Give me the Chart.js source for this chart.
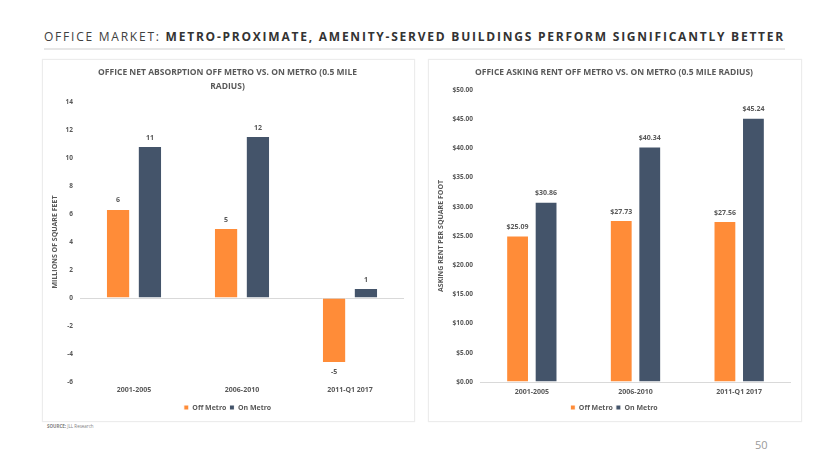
<!DOCTYPE html>
<html><head><meta charset="utf-8">
<script src="https://cdn.jsdelivr.net/npm/chart.js@4.4.1/dist/chart.umd.min.js"></script>
<style>
html,body{margin:0;padding:0;background:#fff;width:830px;height:467px;overflow:hidden;font-family:"Open Sans",sans-serif;}
#hdr{position:absolute;left:44px;top:28px;font-size:12px;letter-spacing:2px;color:#404040;white-space:nowrap;}
#hdr b{font-weight:700;color:#333;}
#rule{position:absolute;left:44px;top:48px;width:741px;height:2px;background:#e6e6e6;}
.panel{position:absolute;border:1px solid #ececec;box-shadow:0 0 1px #eee;}
#p1{left:42px;top:59px;width:371px;height:361px;}
#p2{left:428px;top:59px;width:372px;height:361px;}
#src{position:absolute;left:47px;top:423px;font-size:4.5px;color:#7f7f7f;}
#pg{position:absolute;left:755px;top:437px;font-size:11px;color:#9a9a9a;}
</style></head><body>
<div id="hdr">OFFICE MARKET: <b>METRO-PROXIMATE, AMENITY-SERVED BUILDINGS PERFORM SIGNIFICANTLY BETTER</b></div>
<div id="rule"></div>
<div class="panel" id="p1"><canvas id="c1" width="371" height="361"></canvas></div>
<div class="panel" id="p2"><canvas id="c2" width="372" height="361"></canvas></div>
<div id="src"><b>SOURCE:</b> JLL Research</div>
<div id="pg">50</div>
<script>
const categories = ["2001-2005", "2006-2010", "2011-Q1 2017"];
const seriesNames = ["Off Metro", "On Metro"];
const absorptionOff = [6.36, 5.0, -4.64];
const absorptionOn = [10.86, 11.57, 0.71];
const rentOff = [25.09, 27.73, 27.56];
const rentOn = [30.86, 40.34, 45.24];
const absorptionTitle = ["OFFICE NET ABSORPTION OFF METRO VS. ON METRO (0.5 MILE", "RADIUS)"];
const rentTitle = "OFFICE ASKING RENT OFF METRO VS. ON METRO (0.5 MILE RADIUS)";

// fit header text to the rule width
(function () {
  const h = document.getElementById("hdr");
  const n = h.textContent.length;
  const w = h.getBoundingClientRect().width;
  const ls = 2 + (741 - w) / n;
  h.style.letterSpacing = ls + "px";
})();

const ORANGE = "#FF8C38", NAVY = "#44546A", TXT = "#595959";
const FONT = "'Open Sans', sans-serif";

const labelPlugin = {
  id: "valLabels",
  afterDatasetsDraw(chart, args, opts) {
    const ctx = chart.ctx;
    ctx.save();
    ctx.font = "bold 7px " + FONT;
    ctx.fillStyle = TXT;
    ctx.textAlign = "center";
    chart.data.datasets.forEach((ds, di) => {
      chart.getDatasetMeta(di).data.forEach((bar, i) => {
        const v = ds.data[i];
        const txt = opts.fmt(v);
        if (v >= 0) { ctx.textBaseline = "bottom"; ctx.fillText(txt, bar.x, bar.y - 5); }
        else { ctx.textBaseline = "top"; ctx.fillText(txt, bar.x, bar.y + 6); }
      });
    });
    ctx.restore();
  }
};

function makeChart(id, offData, onData, title, yTitle, yMin, yMax, step, tickFmt, valFmt, cp, bp, yWidth, pad, titleGap, xPad, xHeight) {
  return new Chart(document.getElementById(id), {
    type: "bar",
    data: {
      labels: categories,
      datasets: [
        { label: seriesNames[0], data: offData, backgroundColor: ORANGE, borderColor: "#ffffff", borderWidth: 1, categoryPercentage: cp, barPercentage: bp },
        { label: seriesNames[1], data: onData, backgroundColor: NAVY, borderColor: "#ffffff", borderWidth: 1, categoryPercentage: cp, barPercentage: bp }
      ]
    },
    options: {
      responsive: false, animation: false, devicePixelRatio: 1,
      layout: { padding: pad },
      plugins: {
        title: { display: true, text: title, color: TXT, font: { family: FONT, size: 8.5, weight: "bold", lineHeight: 1.65 }, padding: { top: 0, bottom: titleGap } },
        legend: { position: "bottom", labels: { boxWidth: 5, boxHeight: 5, color: TXT, font: { family: FONT, size: 7, weight: "bold" }, padding: 3 } },
        tooltip: { enabled: false },
        valLabels: { fmt: valFmt }
      },
      scales: {
        x: {
          afterFit: s => { s.height = xHeight; },
          grid: { display: false, drawTicks: false },
          border: { display: false },
          ticks: { color: TXT, font: { family: FONT, size: 7, weight: "bold" }, padding: xPad }
        },
        y: {
          min: yMin, max: yMax,
          afterFit: s => { s.width = yWidth; },
          grid: { color: c => c.tick.value === 0 ? "#d9d9d9" : "rgba(0,0,0,0)", drawTicks: false },
          border: { display: false },
          ticks: { stepSize: step, color: TXT, font: { family: FONT, size: 6.5, weight: "bold" }, padding: 7, callback: tickFmt },
          title: { display: true, text: yTitle, color: TXT, font: { family: FONT, size: 7, weight: "bold" }, padding: 0 }
        }
      }
    },
    plugins: [labelPlugin]
  });
}

makeChart("c1", absorptionOff, absorptionOn, absorptionTitle, "MILLIONS OF SQUARE FEET", -6, 14, 2,
  v => v, v => Math.round(v), 0.59, 0.76, 29, { top: 6, left: 8, right: 10, bottom: 0 }, 8, 4, 19);
makeChart("c2", rentOff, rentOn, rentTitle, "ASKING RENT PER SQUARE FOOT", 0, 50, 5,
  v => "$" + v.toFixed(2), v => "$" + v.toFixed(2), 0.55, 0.8, 43, { top: 6, left: 8, right: 10, bottom: 0 }, 10, 6, 19);
</script>
</body></html>
